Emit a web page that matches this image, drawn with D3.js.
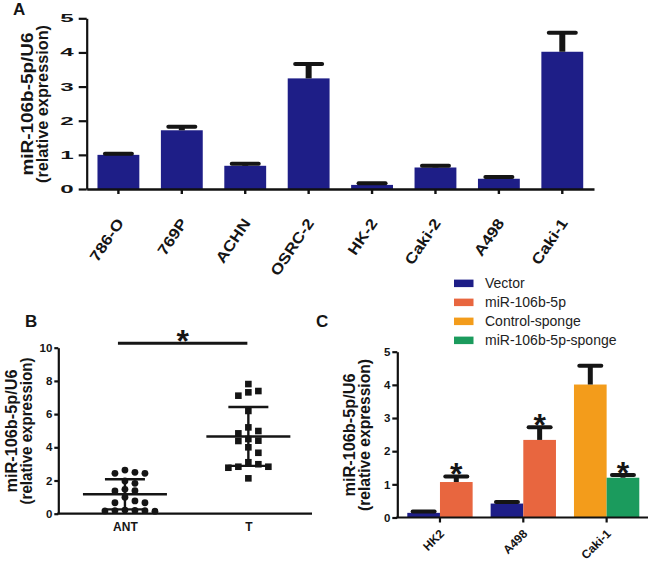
<!DOCTYPE html>
<html>
<head>
<meta charset="utf-8">
<script src="https://cdn.jsdelivr.net/npm/d3@7"></script>
<style>
  body { margin: 0; background: #fff; }
  svg { display: block; font-family: Arial, "Liberation Sans", sans-serif; }
  .axis path, .axis line { stroke: #111; }
</style>
</head>
<body>
<svg id="chart" width="650" height="561"></svg>
<script>
// ---- panel A : cell lines
const catsA = ["786-O", "769P", "ACHN", "OSRC-2", "HK-2", "Caki-2", "A498", "Caki-1"];
const meanA = [1.00, 1.72, 0.68, 3.24, 0.12, 0.63, 0.30, 4.02];
const semA  = [0.03, 0.10, 0.06, 0.42, 0.05, 0.05, 0.05, 0.56];
const ticksA = [0, 1, 2, 3, 4, 5];

// ---- panel B : tissue pairs
const groupsB = ["ANT", "T"];
const antValues = [2.63, 2.43, 2.43, 2.49, 1.97, 1.83, 1.47, 1.37, 1.39, 0.99,
                   0.66, 0.77, 0.66, 0.15, 0.17, 0.18, 0.19, 0.20, 0.22];
const tValues = [7.81, 7.39, 7.31, 7.11, 6.19, 5.20, 4.98, 4.84, 4.40, 4.38,
                 4.50, 4.00, 3.67, 2.98, 2.83, 2.77, 2.83, 3.10, 2.13];
const ticksB = [0, 2, 4, 6, 8, 10];

// ---- panel C : transfection
const groupsC = ["HK2", "A498", "Caki-1"];
const seriesC = ["Vector", "miR-106b-5p", "Control-sponge", "miR-106b-5p-sponge"];
const colorsC = ["#1e1e87", "#e8663f", "#f39c1b", "#1b9b5d"];
const barGroupC  = ["HK2", "HK2", "A498", "A498", "Caki-1", "Caki-1"];
const barSeriesC = ["Vector", "miR-106b-5p", "Vector", "miR-106b-5p", "Control-sponge", "miR-106b-5p-sponge"];
const barMeanC = [0.14, 1.07, 0.42, 2.34, 4.01, 1.20];
const barSemC  = [0.04, 0.17, 0.05, 0.38, 0.57, 0.08];
const barStarC = [false, true, false, true, false, true];
const ticksC = [0, 1, 2, 3, 4, 5];

const svg = d3.select("#chart");
const ink = "#151515";
const fmt = d3.format("d");

function styleAxis(g, w) {
  g.attr("class", "axis");
  g.select(".domain").attr("stroke-width", w);
  g.selectAll(".tick line").attr("stroke-width", w);
  g.selectAll("text").attr("fill", ink).attr("font-weight", "bold");
}

function yTitle(x, yc, size, len1, len2) {
  const t = svg.append("g").attr("transform", `translate(${x},${yc}) rotate(-90)`);
  t.append("text").attr("text-anchor", "middle").attr("y", 0)
    .attr("font-size", size).attr("font-weight", "bold").attr("fill", ink)
    .attr("textLength", len1).attr("lengthAdjust", "spacingAndGlyphs")
    .text("miR-106b-5p/U6");
  t.append("text").attr("text-anchor", "middle").attr("y", 15)
    .attr("font-size", size).attr("font-weight", "bold").attr("fill", ink)
    .attr("textLength", len2).attr("lengthAdjust", "spacingAndGlyphs")
    .text("(relative expression)");
}

function errBar(g, cx, y0, y1, capW, stemW) {
  g.append("line").attr("x1", cx).attr("x2", cx).attr("y1", y0).attr("y2", y1)
    .attr("stroke", ink).attr("stroke-width", stemW);
  g.append("line").attr("x1", cx - capW / 2).attr("x2", cx + capW / 2)
    .attr("y1", y1).attr("y2", y1)
    .attr("stroke", ink).attr("stroke-width", 4).attr("stroke-linecap", "round");
}

function panelLabel(x, y, s) {
  svg.append("text").attr("x", x).attr("y", y).attr("font-size", 17)
    .attr("font-weight", "bold").attr("fill", ink).text(s);
}

// ================= A =================
const xA = d3.scaleBand().domain(catsA).range([86.7, 594]).paddingInner(0.34).paddingOuter(0.17);
const yA = d3.scaleLinear().domain([0, 5]).range([189, 18.3]);
const gA = svg.append("g");

gA.selectAll("rect").data(catsA).join("rect")
  .attr("x", d => xA(d)).attr("width", xA.bandwidth())
  .attr("y", (d, i) => yA(meanA[i])).attr("height", (d, i) => yA(0) - yA(meanA[i]))
  .attr("fill", "#1e1e87");
catsA.forEach((c, i) => errBar(gA, xA(c) + xA.bandwidth() / 2, yA(meanA[i]), yA(meanA[i] + semA[i]), 27, 6));

const sA = 2.2;
gA.append("g").attr("transform", "translate(86.7,0)")
  .call(d3.axisLeft(yA).tickValues(ticksA).tickFormat(fmt).tickSize(8).tickPadding(5).tickSizeOuter(0))
  .call(g => styleAxis(g, 2.2))
  .call(g => g.selectAll("text").attr("font-size", 11)
    .attr("x", -13 / sA).attr("transform", `scale(${sA},1)`));

gA.append("g").attr("transform", "translate(0,189)")
  .call(d3.axisBottom(xA).tickSize(5).tickSizeOuter(0))
  .call(g => styleAxis(g, 2.4))
  .call(g => g.selectAll("text").attr("font-size", 15)
    .attr("text-anchor", "end").attr("x", 0).attr("y", 0).attr("dy", 0)
    .attr("transform", "translate(6,34) rotate(-56) scale(1.15,1)"));

yTitle(33, 104, 17, 143, 158);
panelLabel(13, 15, "A");

// ================= B =================
const xB = d3.scalePoint().domain(groupsB).range([58.3, 315]).padding(0.54);
const yB = d3.scaleLinear().domain([0, 10]).range([513.7, 347.7]);
const gB = svg.append("g");

gB.append("g").attr("transform", "translate(58.3,0)")
  .call(d3.axisLeft(yB).tickValues(ticksB).tickFormat(fmt).tickSize(4).tickPadding(2).tickSizeOuter(0))
  .call(g => styleAxis(g, 2.2))
  .call(g => g.selectAll("text").attr("font-size", 11.5));

gB.append("g").attr("transform", "translate(0,513.7)")
  .call(d3.axisBottom(xB).tickSize(0).tickPadding(9).tickSizeOuter(0))
  .call(g => styleAxis(g, 2.2))
  .call(g => g.select(".domain").attr("d", "M57.2,0H312"))
  .call(g => g.selectAll("text").attr("font-size", 12));

// simple dodge so overlapping points spread sideways
function dodge(values, cx, step, minDy) {
  const placed = [];
  values.slice().sort((a, b) => b - a).forEach(v => {
    const y = yB(v);
    for (let k = 0; k < 40; k++) {
      const off = k === 0 ? 0 : (k % 2 ? 1 : -1) * Math.ceil(k / 2) * step;
      const x = cx + off;
      if (!placed.some(p => Math.abs(p.x - x) < step - 0.1 && Math.abs(p.y - y) < minDy)) {
        placed.push({ x, y, v });
        break;
      }
    }
  });
  return placed;
}

[antValues, tValues].forEach((vals, gi) => {
  const cx = xB(groupsB[gi]);
  const m = d3.mean(vals), sd = d3.deviation(vals);
  const pts = dodge(vals, cx, 10, 7);
  if (gi === 0) {
    gB.append("g").selectAll("circle").data(pts).join("circle")
      .attr("cx", d => d.x).attr("cy", d => d.y).attr("r", 3.4).attr("fill", ink);
  } else {
    gB.append("g").selectAll("rect").data(pts).join("rect")
      .attr("x", d => d.x - 3.3).attr("y", d => d.y - 3.3)
      .attr("width", 6.6).attr("height", 6.6).attr("fill", ink);
  }
  const ln = (x1, x2, y1, y2) => gB.append("line").attr("x1", x1).attr("x2", x2)
    .attr("y1", y1).attr("y2", y2).attr("stroke", ink).attr("stroke-width", 2.4);
  ln(cx - 42, cx + 42, yB(m), yB(m));
  ln(cx, cx, yB(m + sd), yB(Math.max(0, m - sd)));
  ln(cx - 20, cx + 20, yB(m + sd), yB(m + sd));
  ln(cx - 20, cx + 20, yB(m - sd), yB(m - sd));
});

gB.append("line").attr("x1", xB("ANT") - 7).attr("x2", xB("T") - 1)
  .attr("y1", 343.3).attr("y2", 343.3).attr("stroke", ink).attr("stroke-width", 3);
gB.append("text").attr("x", (xB("ANT") + xB("T")) / 2 - 4).attr("y", 352)
  .attr("text-anchor", "middle").attr("font-size", 32).attr("font-weight", "bold")
  .attr("fill", ink).text("*");

yTitle(17, 431, 16, 123, 147);
panelLabel(25, 327, "B");

// ================= C =================
const xC = d3.scaleBand().domain(groupsC).range([397.3, 649.3]).paddingInner(0.216).paddingOuter(0.12);
const xSub = d3.scaleBand().domain([0, 1]).range([0, xC.bandwidth()]);
const yC = d3.scaleLinear().domain([0, 5]).range([517.5, 351.7]);
const colorC = d3.scaleOrdinal().domain(seriesC).range(colorsC);
const gC = svg.append("g");

const barsC = barMeanC.map((v, i) => ({
  g: barGroupC[i], s: barSeriesC[i], v, e: barSemC[i], star: barStarC[i], slot: i % 2
}));

gC.selectAll("rect").data(barsC).join("rect")
  .attr("x", d => xC(d.g) + xSub(d.slot)).attr("width", xSub.bandwidth())
  .attr("y", d => yC(d.v)).attr("height", d => yC(0) - yC(d.v))
  .attr("fill", d => colorC(d.s));
barsC.forEach(d => {
  const cx = xC(d.g) + xSub(d.slot) + xSub.bandwidth() / 2;
  errBar(gC, cx, yC(d.v), yC(d.v + d.e), 22, 5);
  if (d.star) {
    gC.append("text").attr("x", cx).attr("y", yC(d.v + d.e) + 9)
      .attr("text-anchor", "middle").attr("font-size", 32).attr("font-weight", "bold")
      .attr("fill", ink).text("*");
  }
});

gC.append("g").attr("transform", "translate(397.3,0)")
  .call(d3.axisLeft(yC).tickValues(ticksC).tickFormat(fmt).tickSize(5).tickPadding(2).tickSizeOuter(0))
  .call(g => styleAxis(g, 2.2))
  .call(g => g.selectAll("text").attr("font-size", 11.5));

gC.append("g").attr("transform", "translate(0,517.5)")
  .call(d3.axisBottom(xC).tickSize(5).tickSizeOuter(0))
  .call(g => styleAxis(g, 2.2))
  .call(g => g.select(".domain").attr("d", "M396.2,0H648"))
  .call(g => g.selectAll("text").attr("font-size", 12)
    .attr("text-anchor", "end").attr("x", 0).attr("y", 0).attr("dy", 0)
    .attr("transform", "translate(5,17) rotate(-45)"));

yTitle(355, 435, 16, 123, 152);
panelLabel(316, 327, "C");

// legend
const lg = svg.append("g").attr("transform", "translate(454,283.3)");
seriesC.forEach((s, i) => {
  const row = lg.append("g").attr("transform", `translate(0,${i * 19})`);
  row.append("rect").attr("x", 0).attr("y", -3.7).attr("width", 19.5).attr("height", 7.5)
    .attr("fill", colorC(s));
  row.append("text").attr("x", 31).attr("y", 0).attr("dy", "0.36em")
    .attr("font-size", 14).attr("fill", "#222").text(s);
});
</script>
</body>
</html>
